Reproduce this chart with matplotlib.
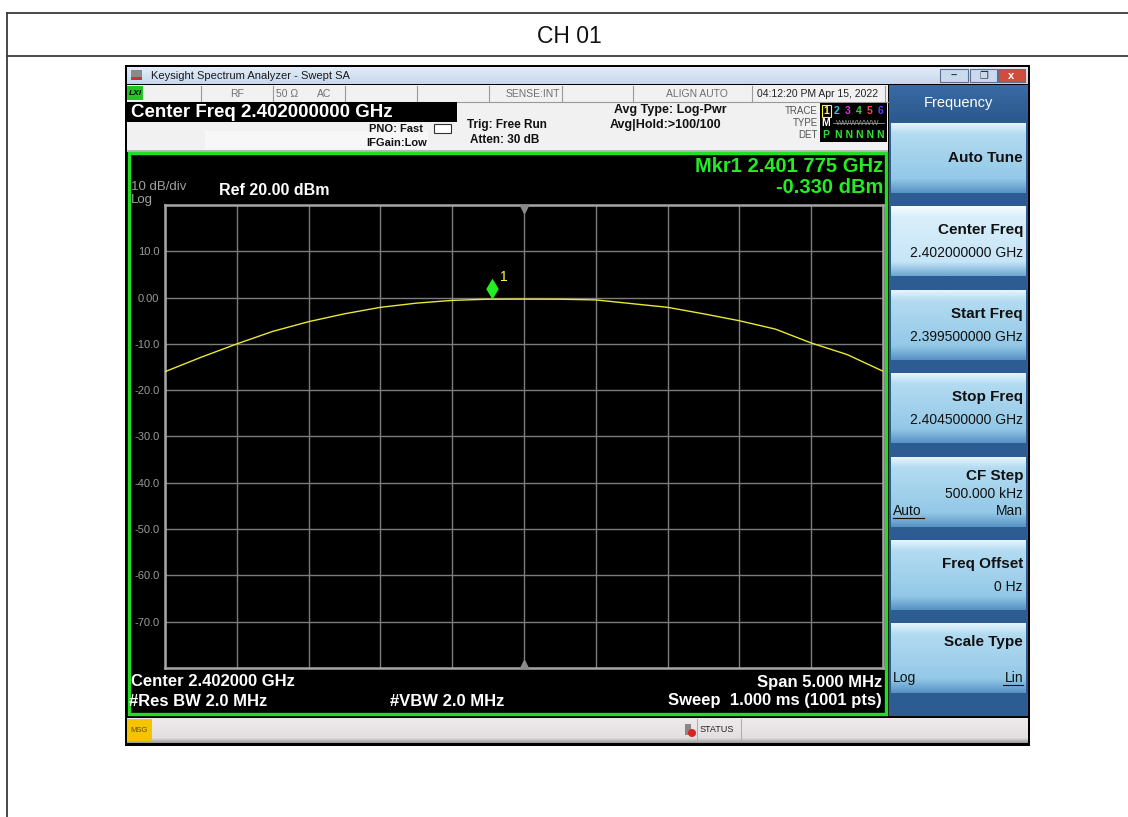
import numpy as np
import matplotlib
matplotlib.use("Agg")
import matplotlib.pyplot as plt
from matplotlib.patches import Rectangle
from matplotlib.path import Path

plt.rcParams['font.family'] = ['Liberation Sans', 'DejaVu Sans']

# trace (GHz, dBm)
freq_ghz = [2.39950, 2.39975, 2.40000, 2.40025, 2.40050, 2.40075, 2.40100,
            2.40125, 2.40150, 2.40175, 2.40200, 2.40225, 2.40250, 2.40275,
            2.40300, 2.40325, 2.40350, 2.40375, 2.40400, 2.40425, 2.40450]
level_dbm = [-16.0, -12.9, -10.0, -7.3, -5.2, -3.5, -2.1,
             -1.2, -0.6, -0.35, -0.33, -0.35, -0.5, -1.3,
             -2.1, -3.5, -5.0, -6.8, -9.8, -12.3, -15.9]
mkr_freq = 2.401775
mkr_level = -0.330
ref_level = 20.0
db_div = 10.0
start_f, stop_f = 2.3995, 2.4045
ytick_vals = [10, 0, -10, -20, -30, -40, -50, -60, -70]

softkeys = [("Auto Tune", ""), ("Center Freq", "2.402000000 GHz"),
            ("Start Freq", "2.399500000 GHz"), ("Stop Freq", "2.404500000 GHz"),
            ("CF Step", "500.000 kHz"), ("Freq Offset", "0 Hz"),
            ("Scale Type", "")]

W, H = 1128, 817
fig = plt.figure(figsize=(W / 100, H / 100), dpi=100)
bg = fig.add_axes([0, 0, 1, 1])
bg.axis("off")


def box(x0, y0, x1, y1, fc, ec="none", lw=0, z=1):
    bg.add_patch(Rectangle((x0, y0), x1 - x0, y1 - y0, fc=fc, ec=ec, lw=lw, zorder=z))


def txt(x, y, s, size, color, ha="left", weight="normal", z=5, **kw):
    bg.text(x, y, s, fontsize=size, color=color, ha=ha, va="center",
            weight=weight, zorder=z, **kw)


def grad(x0, y0, x1, y1, stops, z=2):
    pos = [p for p, c in stops]
    cols = np.array([matplotlib.colors.to_rgb(c) for p, c in stops])
    t = np.linspace(0, 1, 64)
    arr = np.stack([np.interp(t, pos, cols[:, k]) for k in range(3)], axis=-1)
    bg.imshow(arr[:, None, :], extent=(x0, x1, y1, y0), aspect="auto",
              interpolation="bilinear", zorder=z)


# outer table
bg.plot([7, 1128], [13, 13], color="#3a3a3a", lw=1.3)
bg.plot([7, 1128], [56, 56], color="#3a3a3a", lw=1.3)
bg.plot([7, 7], [13, 817], color="#3a3a3a", lw=1.3)
txt(569, 36, "CH 01", 16.5, "#111111", ha="center")

# window
box(125, 65, 1030, 746, "black", z=1)
grad(127, 67, 1028, 84, [(0, "#e4edf8"), (1, "#c6d7ed")])
box(131, 70, 142, 80, "#8a8a8a", z=3)
box(131, 77, 142, 80, "#d03030", z=3)
txt(151, 75.5, "Keysight Spectrum Analyzer - Swept SA", 8, "#1a1a1a")
for x0, x1, c in [(940, 968, "#c9daee"), (970, 997, "#c9daee"), (998, 1025, "#cf4d3c")]:
    box(x0, 69, x1, 82, c, ec="#5a6f8a", lw=0.8, z=3)
txt(954, 76, "–", 8, "#333333", ha="center", weight="bold")
txt(983.5, 76, "❐", 7, "#333333", ha="center", family="DejaVu Sans")
txt(1011.5, 75.5, "x", 8, "white", ha="center", weight="bold")

# status row and info area
box(127, 85, 888, 151, "#f1f1f1", z=2)
box(127, 150, 888, 152, "#b8b8b8", z=2)
for xd in [201, 273, 345, 417, 489, 562, 633, 752, 885]:
    bg.plot([xd, xd], [86, 101], color="#9a9a9a", lw=0.8, zorder=3)
bg.plot([127, 888], [101.5, 101.5], color="#9a9a9a", lw=0.8, zorder=3)
box(127, 86, 143, 100, "#22c522", z=3)
txt(135, 93, "LXI", 6, "black", ha="center", weight="bold", style="italic")
txt(237, 93.5, "RF", 7.5, "#707070", ha="center")
txt(287, 93.5, "50 Ω", 7.5, "#707070", ha="center")
txt(324, 93.5, "AC", 7.5, "#707070", ha="center")
txt(560, 93.5, "SENSE:INT", 7.5, "#707070", ha="right")
txt(697, 93.5, "ALIGN AUTO", 7.5, "#707070", ha="center")
txt(818, 93.5, "04:12:20 PM Apr 15, 2022", 7.5, "#222222", ha="center")

box(127, 102, 457, 122, "black", z=3)
txt(131, 112.5, "Center Freq 2.402000000 GHz", 13.5, "white", weight="bold")
box(205, 131, 428, 149, "#f7f7f7", z=2.5)
txt(423, 129, "PNO: Fast", 8, "#111111", ha="right", weight="bold")
txt(427, 143, "IFGain:Low", 8, "#111111", ha="right", weight="bold")
bg.add_patch(Rectangle((434, 124), 17, 9, fc="white", ec="#333333", lw=0.8, zorder=4))
txt(467, 125, "Trig: Free Run", 8.5, "#111111", weight="bold")
txt(470, 140, "Atten: 30 dB", 8.5, "#111111", weight="bold")
txt(727, 110, "Avg Type: Log-Pwr", 9, "#111111", ha="right", weight="bold")
txt(721, 125, "Avg|Hold:>100/100", 9, "#111111", ha="right", weight="bold")
txt(818, 111, "TRACE", 7, "#555555", ha="right")
txt(818, 123, "TYPE", 7, "#555555", ha="right")
txt(818, 135, "DET", 7, "#555555", ha="right")
box(820, 103, 887, 142, "black", z=3)
trace_cols = ["#ffff30", "#20d0f0", "#e030e0", "#40d040", "#ff4060", "#6040ff"]
for i, c in enumerate(trace_cols):
    txt(826 + i * 11, 111, str(i + 1), 7.5, c, ha="center", weight="bold")
bg.add_patch(Rectangle((821.5, 104.5), 9, 12, fc="none", ec="#ffff30", lw=0.8, zorder=6))
txt(826, 123, "M", 7.5, "white", ha="center", weight="bold")
txt(858, 123, "WWWWWW", 5.5, "#9a9a9a", ha="center")
bg.plot([833, 884], [123, 123], color="#9a9a9a", lw=0.6, zorder=6)
txt(826, 135, "P", 7.5, "#30e030", ha="center", weight="bold")
txt(860, 135, "N N N N N", 7.5, "#30e030", ha="center", weight="bold")

# graph area
box(129, 153, 886, 714, "black", ec="#22dd22", lw=2.4, z=2)
txt(131, 187, "10 dB/div", 9.5, "#a0a0a0")
txt(131, 200, "Log", 9.5, "#a0a0a0")
txt(219, 190, "Ref %.2f dBm" % ref_level, 11.5, "white", weight="bold")
txt(883, 166, "Mkr1 2.401 775 GHz", 14.5, "#22ee22", ha="right", weight="bold")
txt(883, 187, "%.3f dBm" % mkr_level, 14.5, "#22ee22", ha="right", weight="bold")
txt(131, 682, "Center 2.402000 GHz", 12, "white", weight="bold")
txt(129, 701, "#Res BW 2.0 MHz", 12, "white", weight="bold")
txt(390, 701, "#VBW 2.0 MHz", 12, "white", weight="bold")
txt(882, 682, "Span 5.000 MHz", 12, "white", ha="right", weight="bold")
txt(882, 701, "Sweep  1.000 ms (1001 pts)", 12, "white", ha="right", weight="bold")

# softkey panel
box(889, 85, 1028, 716, "#2d5c92", z=2)
grad(889, 85, 1028, 121, [(0, "#3a6aa4"), (1, "#2b598e")], z=2.5)
txt(958, 103, "Frequency", 10.5, "white", ha="center")
for i, (name, val) in enumerate(softkeys):
    top = 123 + i * 83.4
    if i == 1:
        stops = [(0, "#f6fcff"), (0.15, "#d9effb"), (0.8, "#c6e5f7"), (1, "#6ea8d3")]
    else:
        stops = [(0, "#e6f4fc"), (0.15, "#b3dbf1"), (0.8, "#93c8e7"), (1, "#5993c6")]
    grad(891, top, 1026, top + 70, stops, z=3)
    if name == "CF Step":
        txt(1023, top + 19, name, 11, "#111111", ha="right", weight="bold")
        txt(1023, top + 37, val, 10, "#111111", ha="right")
        txt(893, top + 54, "Auto", 10, "#111111", ha="left")
        bg.plot([893, 924], [top + 61, top + 61], color="#111111", lw=0.8, zorder=5)
        txt(1023, top + 54, "Man", 10, "#111111", ha="right")
    elif name == "Scale Type":
        txt(1023, top + 19, name, 11, "#111111", ha="right", weight="bold")
        txt(893, top + 55, "Log", 10, "#111111", ha="left")
        txt(1023, top + 55, "Lin", 10, "#111111", ha="right")
        bg.plot([1003, 1023], [top + 62, top + 62], color="#111111", lw=0.8, zorder=5)
    elif val:
        txt(1023, top + 24, name, 11, "#111111", ha="right", weight="bold")
        txt(1023, top + 47, val, 10, "#111111", ha="right")
    else:
        txt(1023, top + 35, name, 11, "#111111", ha="right", weight="bold")

# message bar
grad(127, 718, 1028, 743, [(0, "#efebed"), (0.8, "#e3dfe1"), (1, "#9a9a9a")], z=2)
box(127, 719, 152, 741, "#f5c400", z=3)
txt(139.5, 730, "MSG", 5.5, "#6a4a00", ha="center")
for xd in [697, 741]:
    bg.plot([xd, xd], [719, 741], color="#b0b0b0", lw=0.8, zorder=3)
box(685, 724, 691, 735, "#888888", z=4)
bg.add_patch(plt.Circle((692, 733), 4, fc="#e02020", ec="none", zorder=5))
txt(700, 729.5, "STATUS", 6.5, "#222222")

bg.set_xlim(0, W)
bg.set_ylim(H, 0)

# spectrum graticule
ax = fig.add_axes([165 / W, 1 - 668 / H, 718 / W, 463 / H], zorder=5)
ax.set_facecolor("black")
ax.plot(freq_ghz, level_dbm, color="#e8e838", lw=1.0, zorder=4)
mk = Path([(0, 0), (0.6, 1), (0, 2), (-0.6, 1), (0, 0)],
          [Path.MOVETO, Path.LINETO, Path.LINETO, Path.LINETO, Path.CLOSEPOLY])
ax.plot([mkr_freq], [mkr_level], marker=mk, ms=30, color="#22ee22", mec="none",
        ls="none", zorder=6)
ax.annotate("1", (mkr_freq, mkr_level), xytext=(9, 16), textcoords="offset points",
            color="#ffff30", fontsize=10, ha="center", va="center")
center = (start_f + stop_f) / 2
ax.plot([center], [ref_level - 0.8], marker="v", ms=6, color="#8a8a8a", clip_on=False, zorder=6)
ax.plot([center], [ref_level - 10 * db_div + 0.8], marker="^", ms=6, color="#8a8a8a",
        clip_on=False, zorder=6)

ax.set_xlim(start_f, stop_f)
ax.set_ylim(ref_level - 10 * db_div, ref_level)
ax.set_xticks(np.linspace(start_f, stop_f, 11))
ax.set_xticklabels([])
ax.set_yticks(ytick_vals)
ax.set_yticklabels(["0.00" if v == 0 else "%.1f" % v for v in ytick_vals])
ax.tick_params(length=0, pad=4, labelsize=8, labelcolor="#9a9a9a")
ax.grid(True, color="#7c7c7c", lw=1.0)
for s in ax.spines.values():
    s.set_color("#a6a6a6")
    s.set_linewidth(1.8)

fig.savefig("out.png", dpi=100, facecolor="white")
